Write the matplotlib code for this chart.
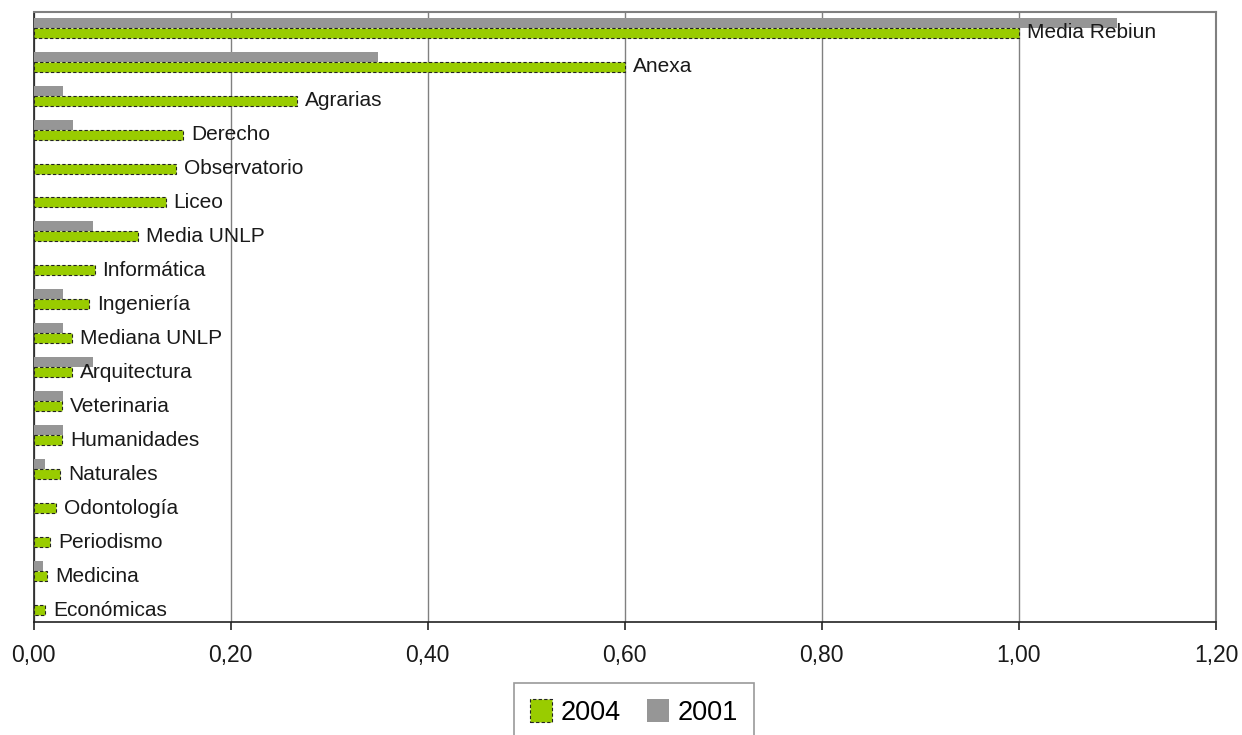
import matplotlib
matplotlib.use("Agg")
import matplotlib.pyplot as plt
import numpy as np

plt.rcParams['font.family'] = ['Liberation Sans', 'DejaVu Sans']

categories = ["Media Rebiun", "Anexa", "Agrarias", "Derecho", "Observatorio", "Liceo",
              "Media UNLP", "Informática", "Ingeniería", "Mediana UNLP", "Arquitectura",
              "Veterinaria", "Humanidades", "Naturales", "Odontología", "Periodismo",
              "Medicina", "Económicas"]
values_2004 = [1.00, 0.60, 0.267, 0.152, 0.145, 0.134, 0.106, 0.062, 0.056, 0.039, 0.039,
               0.029, 0.029, 0.027, 0.023, 0.017, 0.014, 0.012]
values_2001 = [1.10, 0.35, 0.03, 0.04, 0.0, 0.0, 0.06, 0.0, 0.03, 0.03, 0.06,
               0.03, 0.03, 0.012, 0.0, 0.0, 0.01, 0.0]
xticks = [0.0, 0.2, 0.4, 0.6, 0.8, 1.0, 1.2]
xtick_labels = ["0,00", "0,20", "0,40", "0,60", "0,80", "1,00", "1,20"]

green = "#99CC00"
gray = "#969696"

fig = plt.figure(figsize=(12.42, 7.35), dpi=100)
ax = fig.add_axes([33.5/1242, 1-622/735, (1216-33.5)/1242, (622-11.7)/735])

y = np.arange(len(categories))
h = 0.295
ax.barh(y - h/2, values_2001, height=h, color=gray, edgecolor='none', label="2001", zorder=3)
ax.barh(y + h/2, values_2004, height=h, color=green, edgecolor='#222222',
        linestyle=(0, (3, 2)), linewidth=0.8, label="2004", zorder=3)

for yi, v, name in zip(y, values_2004, categories):
    ax.annotate(name, xy=(v, yi + h/2), xytext=(8, 0), textcoords='offset pixels',
                va='center', ha='left', fontsize=15, color='#1a1a1a', zorder=4)

ax.set_xlim(0, 1.2)
ax.set_ylim(17.5, -0.47)
ax.set_yticks([])
ax.set_xticks(xticks)
ax.set_xticklabels(xtick_labels, fontsize=16.5, color='#1a1a1a')
ax.tick_params(axis='x', direction='out', length=6, width=1.2, color='#222222', pad=10)
ax.xaxis.grid(True, color='#808080', linewidth=1.0, zorder=0)
ax.set_axisbelow(True)
for s in ['top', 'right']:
    ax.spines[s].set_color('#808080')
    ax.spines[s].set_linewidth(1.5)
for s in ['left', 'bottom']:
    ax.spines[s].set_color('#222222')
    ax.spines[s].set_linewidth(1.2)

handles, labels = ax.get_legend_handles_labels()
leg = fig.legend(handles[::-1], labels[::-1], loc='upper center', bbox_to_anchor=(634/1242, 1-683/735),
                 ncol=2, fontsize=19.5, frameon=True, fancybox=False, edgecolor='#808080',
                 handlelength=0.8, handleheight=0.9, handletextpad=0.3, columnspacing=1.0,
                 borderpad=0.6, borderaxespad=0)
leg.get_frame().set_linewidth(1.2)

fig.savefig("out.png", dpi=100, facecolor='white')
